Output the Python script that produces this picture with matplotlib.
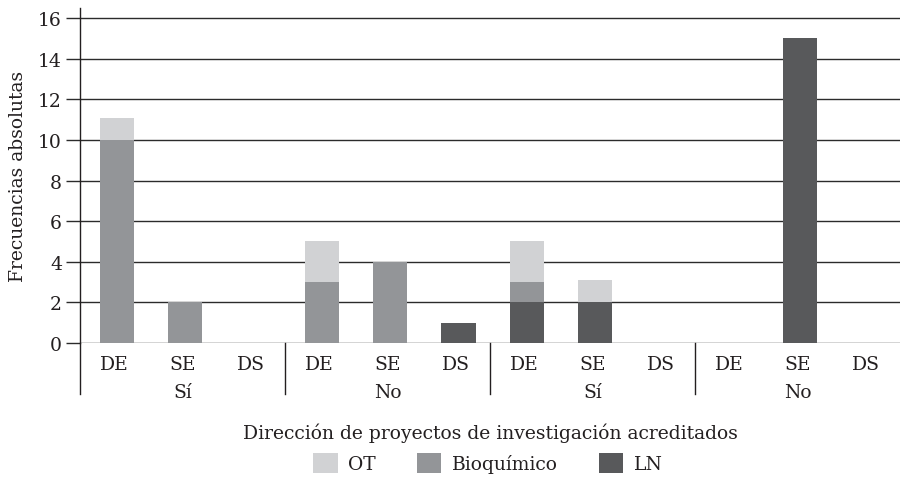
import matplotlib
matplotlib.use("Agg")
import matplotlib.pyplot as plt
from matplotlib.patches import Patch
import numpy as np

plt.rcParams['font.family'] = ['DejaVu Serif']

categories = ["DE", "SE", "DS"] * 4
groups = ["Sí", "No", "Sí", "No"]
ln = [0, 0, 0, 0, 0, 1, 2, 2, 0, 0, 15, 0]
bioquimico = [10, 2, 0, 3, 4, 0, 1, 0, 0, 0, 0, 0]
ot = [1.1, 0, 0, 2, 0, 0, 2, 1.1, 0, 0, 0, 0]
series_names = ["OT", "Bioquímico", "LN"]
colors = {"OT": "#d1d2d4", "Bioquímico": "#939598", "LN": "#58595b"}

FS = 13.5
W, H = 904, 489
fig = plt.figure(figsize=(W / 100, H / 100), dpi=100)
ax = fig.add_axes([80 / W, (H - 344) / H, 820 / W, 335 / H])

x = np.arange(len(categories))
ln_a = np.array(ln, dtype=float)
bio_a = np.array(bioquimico, dtype=float)
ot_a = np.array(ot, dtype=float)

ax.set_axisbelow(True)
ax.bar(x + 0.04, ln_a, width=0.5, color=colors["LN"], zorder=3)
ax.bar(x + 0.04, bio_a, width=0.5, bottom=ln_a, color=colors["Bioquímico"], zorder=3)
ax.bar(x + 0.04, ot_a, width=0.5, bottom=ln_a + bio_a, color=colors["OT"], zorder=3)

ax.set_xlim(-0.5, len(categories) - 0.5)
ax.set_ylim(0, 16.5)
ax.set_yticks(np.arange(0, 17, 2))
ax.yaxis.grid(True, color="#2b2b2b", linewidth=1.0)
ax.tick_params(axis='y', length=10, width=1.0, color="#2b2b2b", labelsize=FS, pad=3)
for lbl in ax.get_yticklabels():
    lbl.set_color("#231f20")

ax.set_xticks(x)
ax.set_xticklabels(categories, fontsize=FS, color="#231f20")
ax.tick_params(axis='x', length=0, pad=9)

for s in ["top", "right", "bottom"]:
    ax.spines[s].set_visible(False)
ax.spines["left"].set_color("#231f20")
ax.spines["left"].set_linewidth(1.0)

trans = ax.get_xaxis_transform()
sep_bottom = -(395 - 344) / 335
for b in [-0.5, 2.5, 5.5, 8.5]:
    ax.plot([b, b], [0, sep_bottom], transform=trans, color="#231f20",
            linewidth=1.0, clip_on=False)

group_y = -(393 - 344) / 335
for i, g in enumerate(groups):
    ax.text(3 * i + 1, group_y, g, transform=trans, ha="center", va="center",
            fontsize=FS, color="#231f20")

ax.set_ylabel("Frecuencias absolutas", fontsize=FS, color="#231f20", labelpad=8)

fig.text(490 / W, 1 - 433 / H, "Dirección de proyectos de investigación acreditados",
         ha="center", va="center", fontsize=FS, color="#231f20")

handles = [Patch(facecolor=colors[n], edgecolor="none", label=n) for n in series_names]
leg = fig.legend(handles=handles, loc="center", bbox_to_anchor=(488 / W, 1 - 464 / H),
                 ncol=3, frameon=False, fontsize=FS, handlelength=1.3, handleheight=1.25,
                 handletextpad=0.55, columnspacing=2.2)
for t in leg.get_texts():
    t.set_color("#231f20")

fig.savefig("out.png", dpi=100)
